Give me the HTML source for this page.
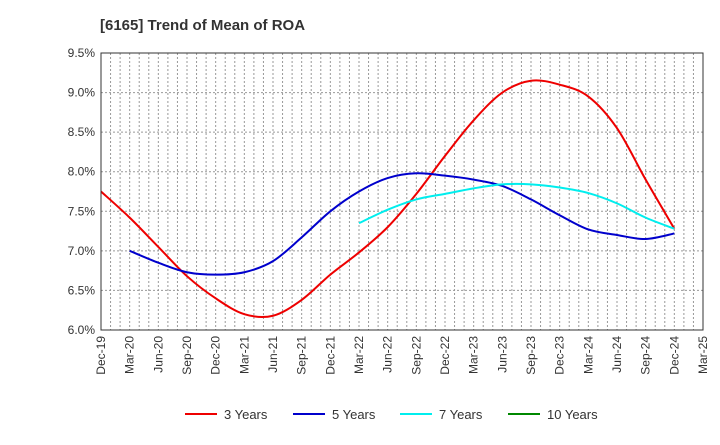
<!DOCTYPE html>
<html><head><meta charset="utf-8"><style>
body{margin:0;background:#fff;font-family:"Liberation Sans",sans-serif}
</style></head><body>
<svg id="c" width="720" height="440" xmlns="http://www.w3.org/2000/svg" font-family="Liberation Sans, sans-serif">
<text x="100" y="30" font-size="15" font-weight="bold" fill="#333">[6165]  Trend of Mean of ROA</text>
<g id="grid"></g><g id="series"></g><g id="axes"></g><g id="legend"></g>
</svg>
<script>
const xLabels=["Dec-19","Mar-20","Jun-20","Sep-20","Dec-20","Mar-21","Jun-21","Sep-21","Dec-21","Mar-22","Jun-22","Sep-22","Dec-22","Mar-23","Jun-23","Sep-23","Dec-23","Mar-24","Jun-24","Sep-24","Dec-24","Mar-25"];
const yTicks=[6.0,6.5,7.0,7.5,8.0,8.5,9.0,9.5];
const s3=[7.75,7.42,7.05,6.68,6.40,6.20,6.18,6.38,6.70,6.98,7.30,7.72,8.20,8.65,9.00,9.15,9.10,8.95,8.55,7.90,7.28];
const s3start=0;
const s5=[7.00,6.85,6.73,6.70,6.73,6.87,7.17,7.50,7.75,7.92,7.98,7.95,7.90,7.82,7.65,7.45,7.27,7.20,7.15,7.22];
const s5start=1;
const s7=[7.35,7.52,7.65,7.72,7.79,7.84,7.84,7.80,7.73,7.60,7.42,7.28];
const s7start=9;
const s10=[];
const L=101,R=703,T=53,B=330;
const X=i=>L+(R-L)*i/(xLabels.length-1);
const Y=v=>B-(B-T)*(v-6)/3.5;
const ns="http://www.w3.org/2000/svg";
function mk(t,a,p){const e=document.createElementNS(ns,t);for(const k in a)e.setAttribute(k,a[k]);p.appendChild(e);return e;}
const g=document.getElementById('grid'),ax=document.getElementById('axes'),se=document.getElementById('series'),lg=document.getElementById('legend');
for(let m=1;m<(xLabels.length-1)*3;m++){const x=L+(R-L)*m/((xLabels.length-1)*3);
const l=mk('line',{x1:x,x2:x,y1:T,y2:B,stroke:'#999','stroke-dasharray':'2,2','stroke-width':1},g);
}
yTicks.forEach(v=>{const y=Y(v);
const l=mk('line',{x1:L,x2:R,y1:y,y2:y,stroke:'#999','stroke-dasharray':'2,2','stroke-width':1},g);

const t=mk('text',{x:L-6,y:y+4,'text-anchor':'end','font-size':12,fill:'#333'},ax);t.textContent=v.toFixed(1)+'%';
});
xLabels.forEach((s,i)=>{const x=X(i);
const t=mk('text',{transform:`translate(${x+4},${B+6}) rotate(-90)`,'text-anchor':'end','font-size':12,fill:'#333'},ax);t.textContent=s;
});
const fr=mk('rect',{x:L,y:T,width:R-L,height:B-T,fill:'none',stroke:'#333','stroke-width':1},ax);

function path(vals,start){const p=vals.map((v,i)=>[X(start+i),Y(v)]);if(p.length<2)return '';
let d=`M${p[0][0]},${p[0][1]}`;for(let i=0;i<p.length-1;i++){const p0=p[i-1]||p[i],p1=p[i],p2=p[i+1],p3=p[i+2]||p2;
d+=` C${p1[0]+(p2[0]-p0[0])/6},${p1[1]+(p2[1]-p0[1])/6} ${p2[0]-(p3[0]-p1[0])/6},${p2[1]-(p3[1]-p1[1])/6} ${p2[0]},${p2[1]}`;}return d;}
const series=[[s3,s3start,'#e00','3 Years','line-3-years'],[s5,s5start,'#00c','5 Years','line-5-years'],[s7,s7start,'#0ee','7 Years','line-7-years'],[s10,0,'#080','10 Years','line-10-years']];
const lx=[185,293,400,508];
series.forEach((s,k)=>{const d=path(s[0],s[1]);if(d){const p=mk('path',{d:d,fill:'none',stroke:s[2],'stroke-width':2},se);
}
const l=mk('line',{x1:lx[k],x2:lx[k]+32,y1:414,y2:414,stroke:s[2],'stroke-width':2},lg);

const t=mk('text',{x:lx[k]+39,y:419,'font-size':13,fill:'#333'},lg);t.textContent=s[3];
});
</script>
</body></html>
